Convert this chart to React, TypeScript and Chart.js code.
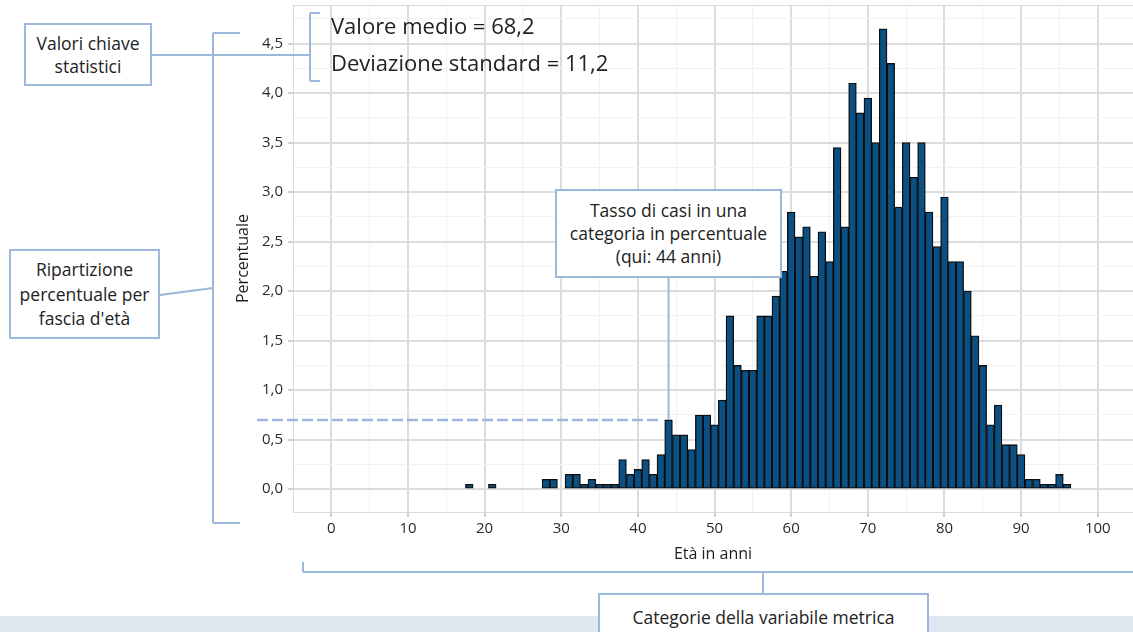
import React, { useEffect, useRef } from "react";
import { Chart, registerables } from "chart.js";

Chart.register(...registerables);

// ---------- data ----------
const ages: number[] = [
  18, 19, 20, 21, 22, 23, 24, 25, 26, 27, 28, 29, 30, 31, 32, 33, 34, 35, 36, 37,
  38, 39, 40, 41, 42, 43, 44, 45, 46, 47, 48, 49, 50, 51, 52, 53, 54, 55, 56, 57,
  58, 59, 60, 61, 62, 63, 64, 65, 66, 67, 68, 69, 70, 71, 72, 73, 74, 75, 76, 77,
  78, 79, 80, 81, 82, 83, 84, 85, 86, 87, 88, 89, 90, 91, 92, 93, 94, 95, 96,
];
const percents: number[] = [
  0.05, 0, 0, 0.05, 0, 0, 0, 0, 0, 0, 0.1, 0.1, 0, 0.15, 0.15, 0.05, 0.1, 0.05, 0.05, 0.05,
  0.3, 0.15, 0.2, 0.3, 0.15, 0.35, 0.7, 0.55, 0.55, 0.4, 0.75, 0.75, 0.65, 0.9, 1.75, 1.25, 1.2, 1.2, 1.75, 1.75,
  1.95, 2.2, 2.8, 2.55, 2.65, 2.15, 2.6, 2.3, 3.45, 2.65, 4.1, 3.8, 3.95, 3.5, 4.65, 4.3, 2.85, 3.5, 3.15, 3.5,
  2.8, 2.45, 2.95, 2.3, 2.3, 2.0, 1.55, 1.25, 0.65, 0.85, 0.45, 0.45, 0.35, 0.1, 0.1, 0.05, 0.05, 0.15, 0.05,
];
const xTickValues: number[] = [-5, 0, 5, 10, 15, 20, 25, 30, 35, 40, 45, 50, 55, 60, 65, 70, 75, 80, 85, 90, 95, 100];
const xLabelValues: number[] = [0, 10, 20, 30, 40, 50, 60, 70, 80, 90, 100];
const yTickValues: number[] = [0, 0.25, 0.5, 0.75, 1, 1.25, 1.5, 1.75, 2, 2.25, 2.5, 2.75, 3, 3.25, 3.5, 3.75, 4, 4.25, 4.5, 4.75];
const highlightAge = 44;
const highlightValue = 0.7;
const xTitle = "Età in anni";
const yTitle = "Percentuale";
const statLines: string[] = ["Valore medio = 68,2", "Deviazione standard = 11,2"];

// ---------- styles ----------
const FONT = "'Open Sans', sans-serif";
const BAR_FILL = "#0a5083";
const LINE = "#9bb7dc";
const isMajorY = (v: number) => Math.abs(v * 2 - Math.round(v * 2)) < 1e-6;
const zeroPad = (s: any) => {
  s.paddingTop = 0;
  s.paddingBottom = 0;
  s.paddingLeft = 0;
  s.paddingRight = 0;
};

const annotPlugin = {
  id: "annot",
  beforeDatasetsDraw(chart: any) {
    const { ctx, chartArea: a } = chart;
    ctx.save();
    ctx.strokeStyle = "#dadada";
    ctx.lineWidth = 1;
    ctx.strokeRect(a.left + 0.5, a.top + 0.5, a.right - a.left, a.bottom - a.top);
    ctx.restore();
  },
  afterDraw(chart: any) {
    const { ctx } = chart;
    const xs = chart.scales.x;
    const ys = chart.scales.y;
    const line = (x1: number, y1: number, x2: number, y2: number) => {
      ctx.beginPath();
      ctx.moveTo(x1, y1);
      ctx.lineTo(x2, y2);
      ctx.stroke();
    };
    ctx.save();
    ctx.strokeStyle = LINE;
    ctx.lineWidth = 2;
    // left bracket
    line(240, 33, 213, 33);
    line(213, 33, 213, 523);
    line(213, 523, 240, 523);
    // connector from "Valori chiave" box to stats bracket
    line(152, 55, 310, 55);
    // stats bracket
    line(320, 13, 310, 13);
    line(310, 13, 310, 81);
    line(310, 81, 320, 81);
    // connector from "Ripartizione" box
    line(160, 295, 213, 288);
    // bottom bracket
    line(303, 562, 303, 572);
    line(303, 572, 1133, 572);
    line(763, 572, 763, 594);
    // leader line to highlighted bar
    const yv = ys.getPixelForValue(highlightValue);
    const xc = xs.getPixelForValue(highlightAge);
    const xl = xs.getPixelForValue(highlightAge - 0.5);
    line(xc, 277, xc, yv);
    // dashed reference line
    ctx.lineWidth = 2.5;
    ctx.setLineDash([11, 4]);
    line(257, yv, xl - 3, yv);
    ctx.restore();
  },
};

export default function App() {
  const ref = useRef<HTMLCanvasElement | null>(null);

  useEffect(() => {
    if (!ref.current) return;
    Chart.defaults.font.family = FONT;
    const data = ages.map((a, i) => ({ x: a, y: percents[i] > 0 ? percents[i] : null }));
    const chart = new Chart(ref.current, {
      type: "bar",
      data: {
        datasets: [
          {
            data: data as any,
            backgroundColor: BAR_FILL,
            borderColor: "#0d0d0d",
            borderWidth: 1.3,
            borderSkipped: false,
            barPercentage: 1,
            categoryPercentage: 1,
          },
        ],
      },
      plugins: [annotPlugin],
      options: {
        animation: false,
        responsive: false,
        devicePixelRatio: 1,
        layout: { padding: { left: 230, top: 5, right: 0, bottom: 64 } },
        plugins: { legend: { display: false }, tooltip: { enabled: false } },
        scales: {
          x: {
            type: "linear",
            offset: false,
            min: -5,
            max: 104.6,
            afterBuildTicks: (s: any) => {
              s.ticks = xTickValues.map((v) => ({ value: v }));
            },
            afterFit: (s: any) => {
              s.height = 56;
              zeroPad(s);
            },
            ticks: {
              autoSkip: false,
              maxRotation: 0,
              padding: 3,
              color: "#2b2b2b",
              font: { size: 15 },
              callback: (v: any) => (xLabelValues.includes(Number(v)) ? String(v) : ""),
            },
            grid: {
              offset: false,
              color: (c: any) => (c.tick && c.tick.value % 10 === 0 ? "#dcdcdc" : "#f1f1f1"),
              lineWidth: (c: any) => (c.tick && c.tick.value % 10 === 0 ? 2 : 1),
              tickColor: (c: any) => (c.tick && c.tick.value % 10 === 0 ? "#d0d0d0" : "rgba(0,0,0,0)"),
              tickLength: 5,
            },
            border: { display: false },
            title: { display: true, text: xTitle, color: "#1e1e1e", font: { size: 16 }, padding: { top: 4, bottom: 4 } },
          },
          y: {
            type: "linear",
            min: -0.23,
            max: 4.89,
            afterBuildTicks: (s: any) => {
              s.ticks = yTickValues.map((v) => ({ value: v }));
            },
            afterFit: (s: any) => {
              s.width = 63;
              zeroPad(s);
            },
            ticks: {
              autoSkip: false,
              padding: 5,
              color: "#2b2b2b",
              font: { size: 15 },
              callback: (v: any) => (isMajorY(Number(v)) ? Number(v).toFixed(1).replace(".", ",") : ""),
            },
            grid: {
              color: (c: any) => (c.tick && isMajorY(c.tick.value) ? "#dcdcdc" : "#f1f1f1"),
              lineWidth: (c: any) => (c.tick && isMajorY(c.tick.value) ? 2 : 1),
              tickColor: (c: any) => (c.tick && isMajorY(c.tick.value) ? "#d0d0d0" : "rgba(0,0,0,0)"),
              tickLength: 5,
            },
            border: { display: false },
            title: { display: true, text: yTitle, color: "#1e1e1e", font: { size: 16 }, padding: { top: 4, bottom: 4 } },
          },
        },
      },
    });
    return () => chart.destroy();
  }, []);

  const box: React.CSSProperties = {
    position: "absolute",
    boxSizing: "border-box",
    border: `2px solid ${LINE}`,
    background: "#fff",
    color: "#222",
    fontFamily: FONT,
    fontSize: 17.5,
    textAlign: "center",
    display: "flex",
    flexDirection: "column",
    justifyContent: "center",
    alignItems: "center",
  };

  return (
    <div
      style={{
        position: "fixed",
        left: 0,
        top: 0,
        width: 1133,
        height: 632,
        background: "#fff",
        overflow: "hidden",
      }}
    >
      <div style={{ position: "absolute", left: 0, top: 616, width: 1133, height: 16, background: "#dfe7f1" }} />
      <canvas ref={ref} width={1133} height={632} style={{ position: "absolute", left: 0, top: 0, width: 1133, height: 632 }} />
      {statLines.map((t, i) => (
        <div
          key={t}
          style={{
            position: "absolute",
            left: 331,
            top: i === 0 ? 10 : 47,
            lineHeight: "30px",
            fontSize: 22,
            fontFamily: FONT,
            color: "#222",
            whiteSpace: "nowrap",
          }}
        >
          {t}
        </div>
      ))}
      <div style={{ ...box, left: 24, top: 23, width: 128, height: 63, lineHeight: "23px" }}>
        <div>Valori chiave</div>
        <div>statistici</div>
      </div>
      <div style={{ ...box, left: 9, top: 249, width: 151, height: 90, lineHeight: "24.5px" }}>
        <div>Ripartizione</div>
        <div>percentuale per</div>
        <div>fascia d'età</div>
      </div>
      <div style={{ ...box, left: 555, top: 189, width: 227, height: 89, lineHeight: "23.3px" }}>
        <div>Tasso di casi in una</div>
        <div>categoria in percentuale</div>
        <div>(qui: 44 anni)</div>
      </div>
      <div
        style={{
          ...box,
          display: "block",
          left: 598,
          top: 593,
          width: 331,
          height: 60,
          lineHeight: "24px",
          paddingTop: 10,
        }}
      >
        Categorie della variabile metrica
      </div>
    </div>
  );
}
